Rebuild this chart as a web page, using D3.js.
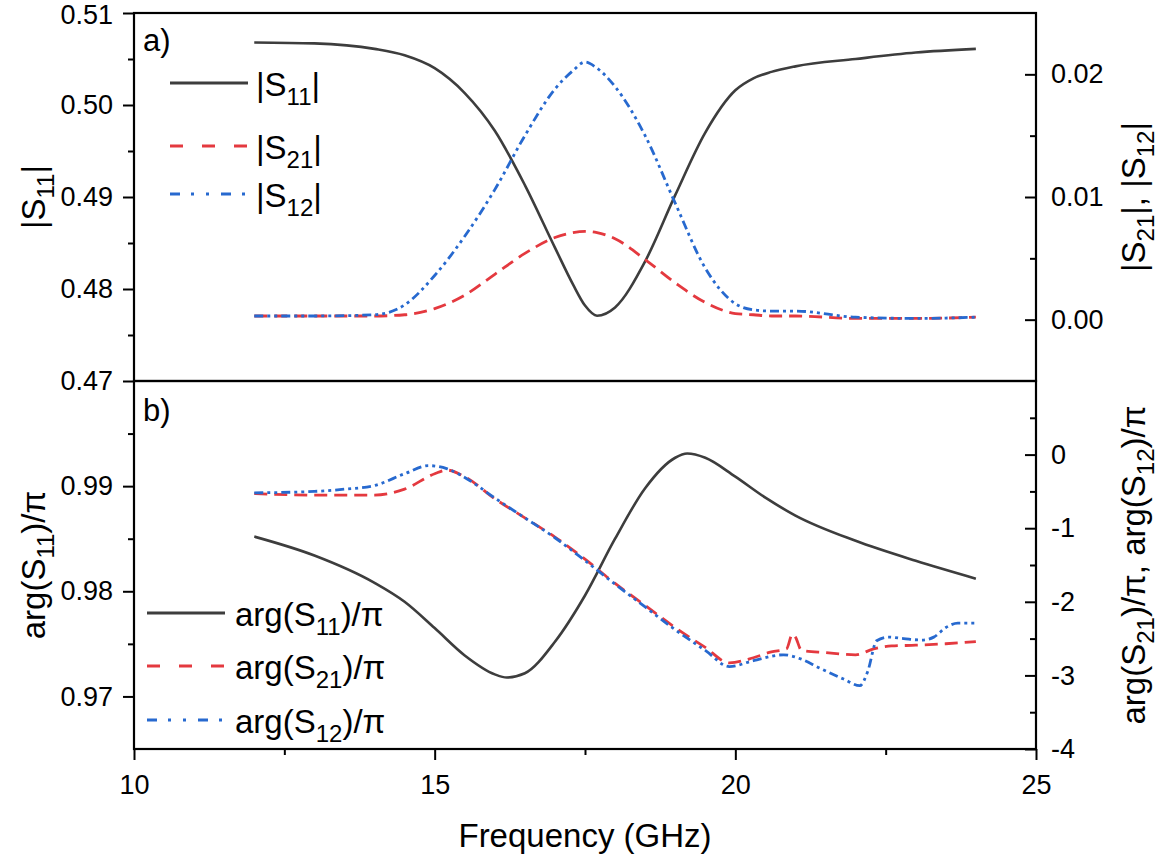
<!DOCTYPE html>
<html>
<head>
<meta charset="utf-8">
<script src="https://cdn.jsdelivr.net/npm/d3@7"></script>
<style>
  body { margin: 0; background: #fff; }
  text { font-family: "Liberation Sans", Arial, sans-serif; fill: #000; }
</style>
</head>
<body>
<svg id="chart" width="1164" height="857"></svg>
<script>
//* Data *//

// panel a) magnitudes
const freqMag = [12, 13, 14, 14.5, 15, 15.5, 16, 16.5, 17, 17.3, 17.5, 17.7, 18, 18.5, 19, 19.5, 20, 20.3, 20.6, 21, 22, 23, 24];
const magS11 = [0.5068, 0.5067, 0.5061, 0.5054, 0.5040, 0.5013, 0.4972, 0.4913, 0.4845, 0.4805, 0.4782, 0.4771, 0.4780, 0.4830, 0.4902, 0.4970, 0.5016, 0.5029, 0.5036, 0.5042, 0.5050, 0.5057, 0.5061];
const magS21 = [0.0003, 0.0003, 0.0003, 0.0004, 0.0009, 0.0020, 0.0037, 0.0054, 0.0067, 0.0071, 0.0072, 0.0071, 0.0066, 0.0049, 0.0030, 0.0014, 0.0005, 0.0004, 0.0003, 0.0003, 0.0001, 0.0001, 0.0002];
const magS12 = [0.0003, 0.0003, 0.0004, 0.0012, 0.0036, 0.0068, 0.0106, 0.0150, 0.0188, 0.0203, 0.0210, 0.0205, 0.0190, 0.0150, 0.0095, 0.0042, 0.0013, 0.0008, 0.0007, 0.0007, 0.0002, 0.0001, 0.0002];

// panel b) phases
const freqArg11 = [12, 13, 14, 14.5, 15, 15.5, 16, 16.2, 16.5, 17, 17.5, 18, 18.5, 19, 19.2, 19.5, 20, 20.5, 21, 22, 23, 24];
const argS11 = [0.9852, 0.9834, 0.9808, 0.9790, 0.9765, 0.9739, 0.9721, 0.9718, 0.9722, 0.9752, 0.9796, 0.9850, 0.9898, 0.9927, 0.9931, 0.9927, 0.9909, 0.9889, 0.9872, 0.9848, 0.9829, 0.9812];

const freqArg21 = [12, 13, 14, 14.5, 15, 15.2, 15.5, 16, 16.5, 17, 17.5, 18, 18.5, 19, 19.5, 19.9, 20.3, 20.6, 20.85, 20.95, 21.0, 21.1, 21.5, 22, 22.3, 22.6, 23, 23.5, 24];
const argS21 = [-0.53, -0.55, -0.55, -0.47, -0.26, -0.21, -0.30, -0.60, -0.86, -1.12, -1.42, -1.75, -2.05, -2.35, -2.62, -2.83, -2.76, -2.68, -2.64, -2.44, -2.48, -2.66, -2.69, -2.72, -2.64, -2.60, -2.59, -2.57, -2.54];

const freqArg12 = [12, 13, 13.5, 14, 14.5, 14.9, 15.2, 15.5, 16, 16.5, 17, 17.5, 18, 18.5, 19, 19.5, 19.9, 20.3, 20.8, 21.1, 21.4, 21.8, 22.07, 22.2, 22.35, 22.55, 22.8, 23.1, 23.3, 23.5, 23.7, 24];
const argS12 = [-0.52, -0.50, -0.47, -0.42, -0.26, -0.15, -0.19, -0.31, -0.59, -0.86, -1.13, -1.44, -1.76, -2.07, -2.38, -2.66, -2.88, -2.80, -2.72, -2.78, -2.90, -3.05, -3.14, -2.95, -2.53, -2.48, -2.50, -2.52, -2.48, -2.35, -2.29, -2.29];

// ticks
const freqTicks = [10, 15, 20, 25];
const magLeftTicks = [0.47, 0.48, 0.49, 0.50, 0.51];
const magRightTicks = [0.00, 0.01, 0.02];
const argLeftTicks = [0.97, 0.98, 0.99];
const argRightTicks = [-4, -3, -2, -1, 0];

//* Layout *//
const svg = d3.select("#chart");
const plotL = 134, plotR = 1036, plotT = 13, plotM = 381, plotB = 749;

const gray = "#3d3d3d", red = "#e4393f", blue = "#2769cf";

// scales
const x = d3.scaleLinear().domain([10, 25]).range([plotL, plotR]);
const yMagL = d3.scaleLinear().domain([0.47, 0.51]).range([plotM, plotT]);
const yMagR = d3.scaleLinear().domain([-0.005, 0.025]).range([plotM, plotT]);
const yArgL = d3.scaleLinear().domain([0.965, 1.0]).range([plotB, plotM]);
const yArgR = d3.scaleLinear().domain([-4, 1]).range([plotB, plotM]);

// clip paths for the two panels
const defs = svg.append("defs");
defs.append("clipPath").attr("id", "clipA").append("rect")
    .attr("x", plotL).attr("y", plotT).attr("width", plotR - plotL).attr("height", plotM - plotT);
defs.append("clipPath").attr("id", "clipB").append("rect")
    .attr("x", plotL).attr("y", plotM).attr("width", plotR - plotL).attr("height", plotB - plotM);

//* Curves *//
function drawCurve(xs, ys, yScale, color, dash, width, clip) {
    const pts = xs.map(function(f, i) { return [f, ys[i]]; });
    const line = d3.line()
        .x(function(d) { return x(d[0]); })
        .y(function(d) { return yScale(d[1]); })
        .curve(d3.curveMonotoneX);
    svg.append("path")
        .datum(pts)
        .attr("clip-path", "url(#" + clip + ")")
        .attr("fill", "none")
        .attr("stroke", color)
        .attr("stroke-width", width)
        .attr("stroke-dasharray", dash)
        .attr("d", line);
}

const dashRed = "13,7";
const dashBlue = "9,4,3,4,3,4";

drawCurve(freqMag, magS11, yMagL, gray, null, 2.6, "clipA");
drawCurve(freqMag, magS21, yMagR, red, dashRed, 2.8, "clipA");
drawCurve(freqMag, magS12, yMagR, blue, dashBlue, 2.8, "clipA");

drawCurve(freqArg11, argS11, yArgL, gray, null, 2.6, "clipB");
drawCurve(freqArg21, argS21, yArgR, red, dashRed, 2.8, "clipB");
drawCurve(freqArg12, argS12, yArgR, blue, dashBlue, 2.8, "clipB");

//* Axes *//
function midTicks(ticks, step, lo, hi) {
    const out = [];
    ticks.forEach(function(t) {
        [t - step / 2, t + step / 2].forEach(function(v) {
            const r = +v.toFixed(6);
            if (r > lo + 1e-9 && r < hi - 1e-9 && out.indexOf(r) < 0) out.push(r);
        });
    });
    return out;
}

function styleAxis(g, fontSize) {
    g.select(".domain").remove();
    g.selectAll("line").attr("stroke", "#000").attr("stroke-width", 2);
    g.selectAll("text").attr("font-size", fontSize + "px")
        .attr("font-family", "'Liberation Sans', Arial, sans-serif").attr("fill", "#000");
}

const tickFont = 27;

// left axes (ticks outward)
const gMagL = svg.append("g").attr("transform", "translate(" + plotL + ",0)")
    .call(d3.axisLeft(yMagL).tickValues(magLeftTicks).tickFormat(d3.format(".2f")).tickSize(11).tickPadding(10));
styleAxis(gMagL, tickFont);
// keep the top label inside the page
gMagL.selectAll(".tick").filter(function(d) { return d === 0.51; }).select("text").attr("dy", "0.4em");
svg.append("g").attr("transform", "translate(" + plotL + ",0)")
    .call(d3.axisLeft(yMagL).tickValues(midTicks(magLeftTicks, 0.01, 0.47, 0.51)).tickFormat("").tickSize(6))
    .call(function(g) { styleAxis(g, tickFont); });

const gArgL = svg.append("g").attr("transform", "translate(" + plotL + ",0)")
    .call(d3.axisLeft(yArgL).tickValues(argLeftTicks).tickFormat(d3.format(".2f")).tickSize(11).tickPadding(10));
styleAxis(gArgL, tickFont);
svg.append("g").attr("transform", "translate(" + plotL + ",0)")
    .call(d3.axisLeft(yArgL).tickValues(midTicks(argLeftTicks.concat([1.0]), 0.01, 0.965, 1.0)).tickFormat("").tickSize(6))
    .call(function(g) { styleAxis(g, tickFont); });

// right axes (ticks inward)
const gMagR = svg.append("g").attr("transform", "translate(" + plotR + ",0)")
    .call(d3.axisRight(yMagR).tickValues(magRightTicks).tickFormat(d3.format(".2f")).tickSizeInner(-11).tickSizeOuter(0).tickPadding(15));
styleAxis(gMagR, tickFont);
svg.append("g").attr("transform", "translate(" + plotR + ",0)")
    .call(d3.axisRight(yMagR).tickValues([0.005, 0.015]).tickFormat("").tickSizeInner(-6).tickSizeOuter(0))
    .call(function(g) { styleAxis(g, tickFont); });

const gArgR = svg.append("g").attr("transform", "translate(" + plotR + ",0)")
    .call(d3.axisRight(yArgR).tickValues(argRightTicks).tickFormat(function(d) { return String(d); }).tickSizeInner(-11).tickSizeOuter(0).tickPadding(15));
styleAxis(gArgR, tickFont);
svg.append("g").attr("transform", "translate(" + plotR + ",0)")
    .call(d3.axisRight(yArgR).tickValues(midTicks(argRightTicks.concat([1]), 1, -4, 1)).tickFormat("").tickSizeInner(-6).tickSizeOuter(0))
    .call(function(g) { styleAxis(g, tickFont); });

// bottom axis
const gX = svg.append("g").attr("transform", "translate(0," + plotB + ")")
    .call(d3.axisBottom(x).tickValues(freqTicks).tickFormat(d3.format("d")).tickSize(11).tickPadding(15));
styleAxis(gX, tickFont);
svg.append("g").attr("transform", "translate(0," + plotB + ")")
    .call(d3.axisBottom(x).tickValues([12.5, 17.5, 22.5]).tickFormat("").tickSize(6))
    .call(function(g) { styleAxis(g, tickFont); });

// frames
[[plotT, plotM], [plotM, plotB]].forEach(function(p) {
    svg.append("rect")
        .attr("x", plotL).attr("y", p[0])
        .attr("width", plotR - plotL).attr("height", p[1] - p[0])
        .attr("fill", "none").attr("stroke", "#000").attr("stroke-width", 2.2);
});

//* Labels with subscripts *//
function richText(g, xPos, yPos, parts, size, rotate, anchor) {
    const t = g.append("text")
        .attr("font-size", size + "px")
        .attr("text-anchor", anchor || "start");
    if (rotate) t.attr("transform", "translate(" + xPos + "," + yPos + ") rotate(-90)");
    else t.attr("x", xPos).attr("y", yPos);
    let lastSub = false;
    parts.forEach(function(p) {
        const ts = t.append("tspan").text(p[0]);
        if (p[1]) {
            ts.attr("font-size", Math.round(size * 0.72) + "px").attr("dy", lastSub ? 0 : size * 0.28);
            lastSub = true;
        } else {
            ts.attr("dy", lastSub ? -size * 0.28 : 0);
            lastSub = false;
        }
    });
    return t;
}

const titleFont = 33;

// axis titles
richText(svg, 45, 197, [["|S", false], ["11", true], ["|", false]], titleFont, true, "middle");
richText(svg, 45, 565, [["arg(S", false], ["11", true], [")/\u03c0", false]], titleFont, true, "middle");
richText(svg, 1145, 197, [["|S", false], ["21", true], ["|, |S", false], ["12", true], ["|", false]], titleFont, true, "middle");
richText(svg, 1145, 565, [["arg(S", false], ["21", true], [")/\u03c0, arg(S", false], ["12", true], [")/\u03c0", false]], titleFont, true, "middle");

svg.append("text")
    .attr("x", (plotL + plotR) / 2)
    .attr("y", 847)
    .attr("text-anchor", "middle")
    .attr("font-size", titleFont + "px")
    .text("Frequency (GHz)");

// panel letters
svg.append("text").attr("x", 143).attr("y", 51).attr("font-size", "31px").text("a)");
svg.append("text").attr("x", 143).attr("y", 421).attr("font-size", "31px").text("b)");

//* Legends *//
const legendA = [
    {y: 83, color: gray, dash: null, parts: [["|S", false], ["11", true], ["|", false]]},
    {y: 146, color: red, dash: "13,19", parts: [["|S", false], ["21", true], ["|", false]]},
    {y: 194, color: blue, dash: "10,11,3,12,3,12", parts: [["|S", false], ["12", true], ["|", false]]}
];
legendA.forEach(function(d) {
    svg.append("line").attr("x1", 170).attr("x2", 248).attr("y1", d.y).attr("y2", d.y)
        .attr("stroke", d.color).attr("stroke-width", 2.8).attr("stroke-dasharray", d.dash);
    richText(svg, 256, d.y + 13, d.parts, titleFont, false, "start");
});

const legendB = [
    {y: 613, color: gray, dash: null, parts: [["arg(S", false], ["11", true], [")/\u03c0", false]]},
    {y: 666, color: red, dash: "13,19", parts: [["arg(S", false], ["21", true], [")/\u03c0", false]]},
    {y: 720, color: blue, dash: "10,11,3,12,3,12", parts: [["arg(S", false], ["12", true], [")/\u03c0", false]]}
];
legendB.forEach(function(d) {
    svg.append("line").attr("x1", 147).attr("x2", 225).attr("y1", d.y).attr("y2", d.y)
        .attr("stroke", d.color).attr("stroke-width", 2.8).attr("stroke-dasharray", d.dash);
    richText(svg, 235, d.y + 13, d.parts, titleFont, false, "start");
});
</script>
</body>
</html>
